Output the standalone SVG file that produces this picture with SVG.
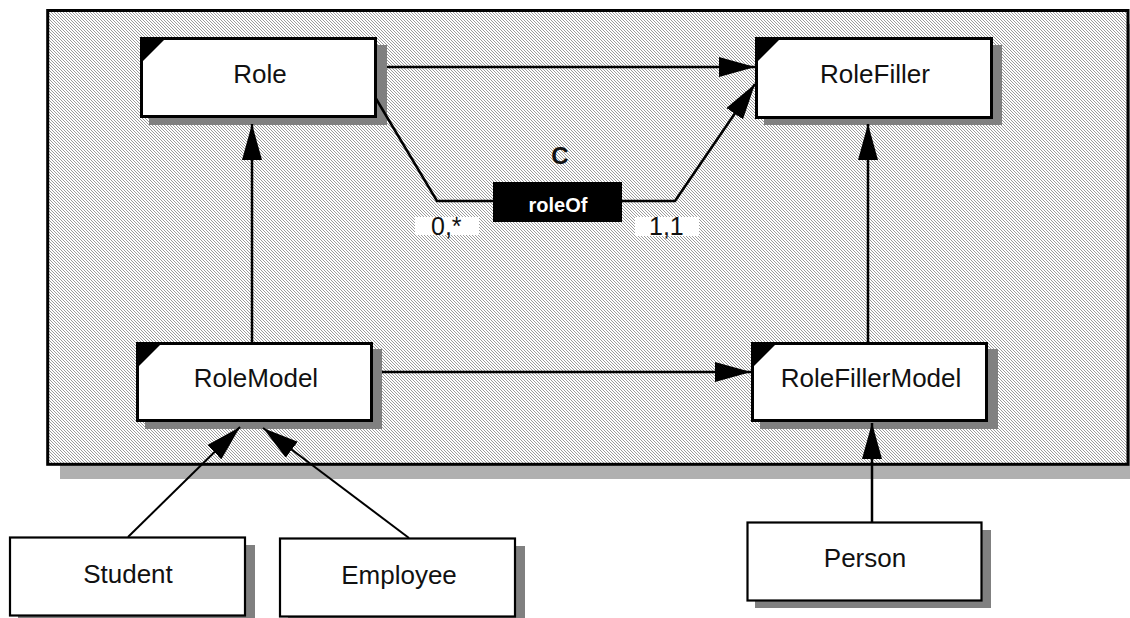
<svg xmlns="http://www.w3.org/2000/svg" width="1130" height="618" viewBox="0 0 1130 618">
  <style>
    .lbl { font-family: "Liberation Sans", Arial, sans-serif; font-size: 26px; fill: #111; text-anchor: middle; }
    .mult { font-family: "Liberation Sans", Arial, sans-serif; font-size: 25px; fill: #111; }
    .box { fill: #fff; stroke: #000; stroke-width: 3; }
    .plain { fill: #fff; stroke: #000; stroke-width: 2.2; }
    .shadow { fill: #808080; }
    .corner { fill: #000; }
    .conn { fill: none; stroke: #000; stroke-width: 2.5; }
    .thin { stroke-width: 2; }
  </style>
  <defs>
    <pattern id="hatch" patternUnits="userSpaceOnUse" width="3" height="3">
      <rect width="3" height="3" fill="#ffffff"/>
      <rect x="0" y="0" width="1" height="1" fill="#9c9c9c"/>
      <rect x="1" y="1" width="1" height="1" fill="#9c9c9c"/>
      <rect x="2" y="2" width="1" height="1" fill="#9c9c9c"/>
    </pattern>
    <marker id="arrow" viewBox="0 0 36 20" refX="36" refY="10" markerWidth="36" markerHeight="20" markerUnits="userSpaceOnUse" orient="auto">
      <path d="M0,0 L36,10 L0,20 Z" fill="#000"/>
    </marker>
  </defs>

  <rect width="1130" height="618" fill="#fff"/>

  <!-- package frame -->
  <g id="frame">
    <rect x="60" y="24" width="1080" height="455" fill="#b0b0b0"/>
    <rect x="47.7" y="10.5" width="1080.3" height="453.8" fill="url(#hatch)" stroke="#000" stroke-width="3"/>
  </g>

  <g id="Role">
    <rect class="shadow" x="149" y="45" width="238" height="80"/>
    <rect class="box" x="141.5" y="38.5" width="234" height="78"/>
    <path class="corner" d="M140,37 L167,37 L140,64 Z"/>
    <text class="lbl" x="260" y="83">Role</text>
  </g>

  <g id="RoleFiller">
    <rect class="shadow" x="764" y="45" width="238" height="80"/>
    <rect class="box" x="756.5" y="38.5" width="235" height="79"/>
    <path class="corner" d="M755,37 L782,37 L755,64 Z"/>
    <text class="lbl" x="875" y="83">RoleFiller</text>
  </g>

  <g id="RoleModel">
    <rect class="shadow" x="145" y="349" width="237" height="80"/>
    <rect class="box" x="137.5" y="343.5" width="234" height="77"/>
    <path class="corner" d="M136,342 L163,342 L136,369 Z"/>
    <text class="lbl" x="256" y="387">RoleModel</text>
  </g>

  <g id="RoleFillerModel">
    <rect class="shadow" x="760" y="349" width="238" height="80"/>
    <rect class="box" x="752.5" y="343.5" width="234" height="77"/>
    <path class="corner" d="M751,342 L778,342 L751,369 Z"/>
    <text class="lbl" x="871" y="387">RoleFillerModel</text>
  </g>

  <g id="Student">
    <rect class="shadow" x="18" y="545" width="237" height="80"/>
    <rect class="plain" x="10" y="537.5" width="235" height="78"/>
    <text class="lbl" x="128" y="583">Student</text>
  </g>

  <g id="Employee">
    <rect class="shadow" x="288" y="546" width="237" height="80"/>
    <rect class="plain" x="280" y="538.5" width="235" height="78"/>
    <text class="lbl" x="399" y="584">Employee</text>
  </g>

  <g id="Person">
    <rect class="shadow" x="755" y="530" width="236" height="78"/>
    <rect class="plain" x="747.5" y="522.5" width="234" height="78"/>
    <text class="lbl" x="865" y="567">Person</text>
  </g>

  <!-- connectors -->
  <g id="connectors">
    <path class="conn" d="M387,67 L755,67" marker-end="url(#arrow)"/>
    <path class="conn" d="M375,97 L437,201 L675,201 L755,84" marker-end="url(#arrow)"/>
    <path class="conn" d="M252,342 L252,124" marker-end="url(#arrow)"/>
    <path class="conn" d="M868,342 L868,124" marker-end="url(#arrow)"/>
    <path class="conn" d="M382,372 L751,372" marker-end="url(#arrow)"/>
    <path class="conn" d="M872,522 L872,423" marker-end="url(#arrow)"/>
    <path class="conn thin" d="M128,537 L240,427" marker-end="url(#arrow)"/>
    <path class="conn thin" d="M409,538 L263,428" marker-end="url(#arrow)"/>
  </g>

  <!-- association label and multiplicities -->
  <g id="roleOf">
    <text x="560" y="164" font-family="Liberation Sans, Arial, sans-serif" font-size="24" font-weight="bold" text-anchor="middle" fill="#111">C</text>
    <rect x="493" y="182" width="129" height="40" fill="#000"/>
    <text x="558" y="212" font-family="Liberation Sans, Arial, sans-serif" font-size="20" font-weight="bold" text-anchor="middle" fill="#fff">roleOf</text>
    <rect x="415" y="217" width="64" height="18" fill="#fff"/>
    <text class="mult" x="431" y="235">0,*</text>
    <rect x="635" y="217" width="64" height="19" fill="#fff"/>
    <text class="mult" x="649" y="235">1,1</text>
  </g>
</svg>
